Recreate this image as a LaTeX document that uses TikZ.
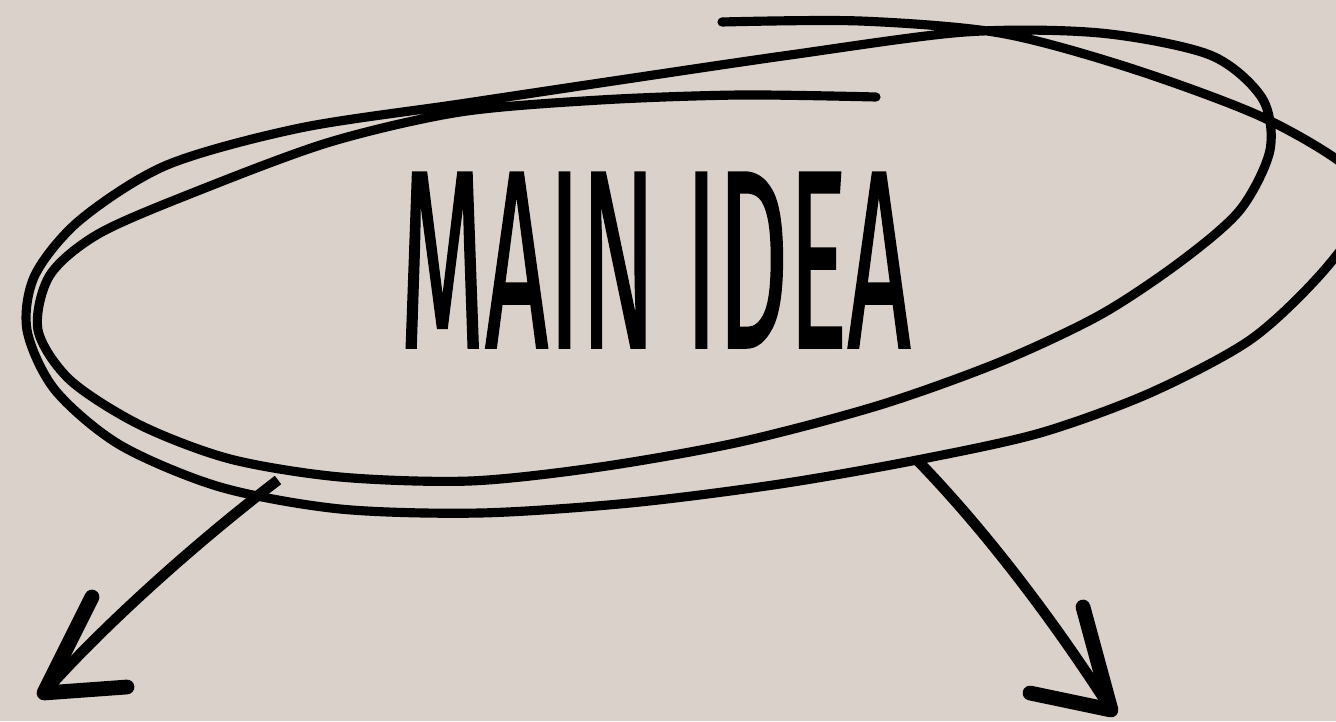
\documentclass[tikz,border=0pt]{standalone}
\usepackage{fontspec}
\usepackage{tikz}
\newfontfamily\ideafont[FakeBold=1.2]{Fira Sans}
\definecolor{paper}{RGB}{218,209,203}

\begin{document}
\begin{tikzpicture}[x=0.01cm, y=-0.01cm,
    scribble/.style={line width=2.6pt, line cap=round, line join=round},
    shaft/.style={line width=3pt, line cap=butt},
    barb/.style={line width=4.2pt, line cap=round, line join=round}]
  \fill[paper] (0,0) rectangle (1336,721);
  \useasboundingbox (0,0) rectangle (1336,721);
  \clip (0,0) rectangle (1336,721);

  \draw[scribble] plot[smooth, tension=0.5] coordinates {
    (722,22) (860,21) (1000,33) (1130,68) (1262,117) (1350,170) (1362,215)
    (1320,275) (1250,340) (1150,393) (1040,433) (917,460) (780,484)
    (630,503) (480,513) (340,509) (220,487) (120,445) (55,390) (27,330)
    (35,275) (80,220) (167,165) (300,128) (460,104) (620,80) (790,55)
    (965,32) (1100,33) (1210,55) (1262,98) (1270,150) (1240,210)
    (1180,262) (1100,315) (1000,362) (880,405) (740,442) (600,467)
    (470,481) (340,477) (230,459) (140,425) (70,380) (38,330) (50,275)
    (100,233) (200,190) (330,142) (460,112) (600,100) (740,95) (876,97)};

  \node (idea) at (655,260)
    {\scalebox{0.435}[1]{\fontsize{72}{72}\selectfont\ideafont MAIN IDEA}};

  \coordinate (lfrom) at (278,480);
  \coordinate (ltip) at (44,693);
  \coordinate (lup) at (92,597);
  \coordinate (llow) at (127,687);
  \draw[shaft] (lfrom) .. controls (180,555) and (90,640) .. (ltip);
  \draw[barb] (lup) -- (ltip) -- (llow);

  \coordinate (rfrom) at (917,460);
  \coordinate (rtip) at (1111,710);
  \coordinate (rup) at (1083,607);
  \coordinate (rlow) at (1030,693);
  \draw[shaft] (rfrom) .. controls (990,535) and (1060,630) .. (rtip);
  \draw[barb] (rup) -- (rtip) -- (rlow);
\end{tikzpicture}
\end{document}
